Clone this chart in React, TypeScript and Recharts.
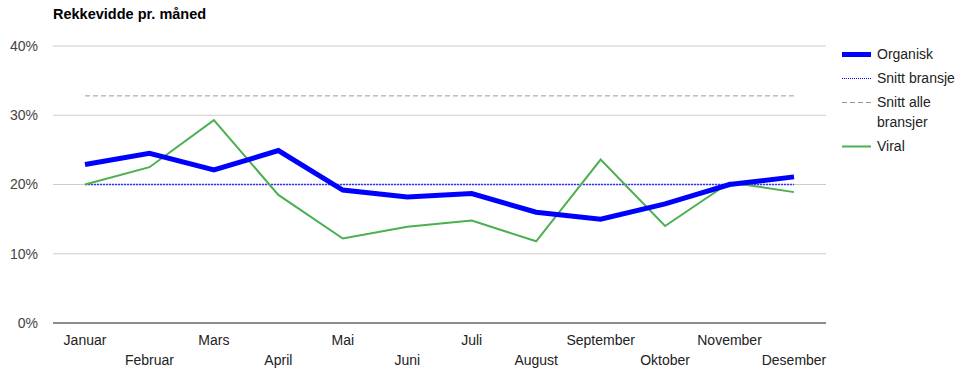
import React from 'react'
import { LineChart, Line, XAxis, YAxis, CartesianGrid } from 'recharts'

// ── Data ──────────────────────────────────────────────────────────────────────

const months = [
  'Januar', 'Februar', 'Mars', 'April', 'Mai', 'Juni',
  'Juli', 'August', 'September', 'Oktober', 'November', 'Desember',
]
const organisk = [22.9, 24.5, 22.1, 24.9, 19.2, 18.2, 18.7, 16.0, 15.0, 17.2, 20.0, 21.1]
const snittBransje = [20, 20, 20, 20, 20, 20, 20, 20, 20, 20, 20, 20]
const snittAlle = [32.8, 32.8, 32.8, 32.8, 32.8, 32.8, 32.8, 32.8, 32.8, 32.8, 32.8, 32.8]
const viral = [20.0, 22.5, 29.3, 18.5, 12.2, 13.9, 14.8, 11.8, 23.6, 14.0, 20.3, 18.9]
const yTicks = [0, 10, 20, 30, 40]

const chartData = months.map((m, i) => ({
  month: m,
  organisk: organisk[i],
  snittBransje: snittBransje[i],
  snittAlle: snittAlle[i],
  viral: viral[i],
}))

const FONT = 'Arial, "Liberation Sans", sans-serif'

// ── Legend ───────────────────────────────────────────────────────────────────

const legendItems = [
  { label: 'Organisk', color: '#0000ff', width: 5, dash: undefined },
  { label: 'Snitt bransje', color: '#0000ff', width: 1, dash: '1 1' },
  { label: 'Snitt alle bransjer', color: '#999999', width: 1, dash: '5 3' },
  { label: 'Viral', color: '#4caf50', width: 2, dash: undefined },
]

function ChartLegend() {
  return (
    <div
      style={{
        position: 'absolute',
        left: 842,
        top: 44,
        width: 124,
        fontFamily: FONT,
        fontSize: 14,
        color: '#222',
      }}
    >
      {legendItems.map(item => (
        <div key={item.label} style={{ display: 'flex', alignItems: 'flex-start', marginBottom: 4 }}>
          <svg width={35} height={20} style={{ flex: 'none' }}>
            <line
              x1={0}
              x2={29}
              y1={10.5}
              y2={10.5}
              stroke={item.color}
              strokeWidth={item.width}
              strokeDasharray={item.dash}
            />
          </svg>
          <span style={{ lineHeight: '20px', width: 86 }}>{item.label}</span>
        </div>
      ))}
    </div>
  )
}

// ── Tick med to rader ─────────────────────────────────────────────────────────

function MonthTick({ x, y, payload, index }: any) {
  const offset = index % 2 === 0 ? 14 : 34
  return (
    <text x={x} y={y + offset} textAnchor="middle" fill="#222" fontSize={14} fontFamily={FONT}>
      {payload.value}
    </text>
  )
}

// ── Komponent ────────────────────────────────────────────────────────────────

export default function App() {
  return (
    <div style={{ position: 'absolute', left: 0, top: 0, width: 966, height: 378, background: '#fff' }}>
      <div
        style={{
          position: 'absolute',
          left: 53,
          top: 6,
          fontFamily: FONT,
          fontSize: 14.5,
          fontWeight: 700,
          color: '#000',
        }}
      >
        Rekkevidde pr. måned
      </div>
      <LineChart
        width={966}
        height={378}
        data={chartData}
        margin={{ top: 46, right: 140, bottom: 5, left: 0 }}
      >
        <CartesianGrid vertical={false} stroke="#cccccc" />
        <XAxis
          dataKey="month"
          interval={0}
          tickLine={false}
          axisLine={{ stroke: '#333333' }}
          height={50}
          padding={{ left: 32, right: 32 }}
          tick={<MonthTick />}
        />
        <YAxis
          domain={[0, 40]}
          ticks={yTicks}
          width={53}
          tickLine={false}
          axisLine={false}
          tickMargin={9}
          tickFormatter={(v: number) => `${v}%`}
          tick={{ fill: '#444', fontSize: 14, fontFamily: FONT }}
        />
        <Line
          dataKey="snittAlle"
          stroke="#999999"
          strokeWidth={1}
          strokeDasharray="5 3"
          dot={false}
          isAnimationActive={false}
        />
        <Line
          dataKey="snittBransje"
          stroke="#3333ff"
          strokeWidth={1.5}
          strokeDasharray="2 1"
          dot={false}
          isAnimationActive={false}
        />
        <Line
          dataKey="viral"
          stroke="#4caf50"
          strokeWidth={2}
          dot={false}
          isAnimationActive={false}
        />
        <Line
          dataKey="organisk"
          stroke="#0000ff"
          strokeWidth={5}
          dot={false}
          isAnimationActive={false}
        />
      </LineChart>
      <ChartLegend />
    </div>
  )
}
